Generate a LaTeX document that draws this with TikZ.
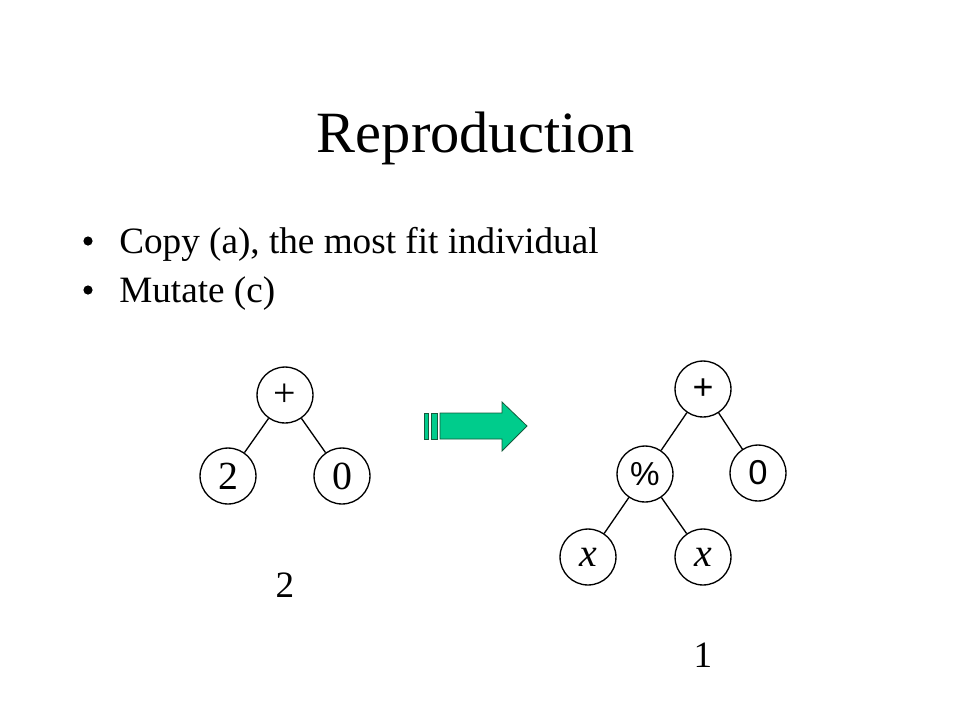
\documentclass[tikz,border=0pt]{standalone}
\usepackage{fontspec}
\setmainfont{Liberation Serif}
\newfontfamily\arialfont{Liberation Sans}
\usepackage{tikz}
\usetikzlibrary{calc}

\definecolor{arrowgreen}{RGB}{0,204,140}
\definecolor{arrowedge}{RGB}{20,90,60}

\tikzset{
    treenode/.style={circle, draw, line width=1pt, minimum size=1.48cm, inner sep=0pt},
    treeedge/.style={line width=1pt},
    bullettext/.style={anchor=base west, inner sep=0pt, font=\fontsize{28}{34}\selectfont},
}

\begin{document}
\begin{tikzpicture}[x=0.026458cm, y=-0.026458cm]
        \useasboundingbox (0,0) rectangle (960,720);

        % Title
        \node[anchor=base, inner sep=0pt, font=\fontsize{44}{50}\selectfont] (title) at (476,152) {Reproduction};

        % Bullets
        \node[bullettext] (copy) at (119,253) {Copy (a), the most fit individual};
        \node[bullettext] (mutate) at (119,302) {Mutate (c)};
        \fill (88,241) circle (4.6);
        \fill (88,290) circle (4.6);

        % Left tree
        \node[treenode, font=\fontsize{30}{34}\selectfont] (lplus) at (285,395) {+};
        \node[treenode, font=\fontsize{30}{34}\selectfont] (ltwo) at (228,476) {2};
        \node[treenode, font=\fontsize{30}{34}\selectfont] (lzero) at (342,476) {0};
        \draw[treeedge] (lplus) -- (ltwo);
        \draw[treeedge] (lplus) -- (lzero);
        \node[font=\fontsize{28}{34}\selectfont] (lfit) at (285,585) {2};

        % Arrow
        \draw[fill=arrowgreen, draw=arrowedge, line width=0.6pt] (424,413) rectangle (428,439);
        \draw[fill=arrowgreen, draw=arrowedge, line width=0.6pt] (431,413) rectangle (437,439);
        \draw[fill=arrowgreen, draw=arrowedge, line width=0.6pt]
            (440,413) -- (502,413) -- (502,402) -- (527,426) -- (502,451) -- (502,439) -- (440,439) -- cycle;

        % Right tree
        \node[treenode, font=\arialfont\fontsize{27}{30}\selectfont] (rplus) at (703,389) {+};
        \node[treenode, font=\arialfont\fontsize{25}{30}\selectfont] (rdiv) at (645,474) {\%};
        \node[treenode, font=\arialfont\fontsize{26}{30}\selectfont] (rzero) at (758,473) {0};
        \node[treenode, font=\itshape\fontsize{30}{34}\selectfont] (rxa) at (588,557) {x};
        \node[treenode, font=\itshape\fontsize{30}{34}\selectfont] (rxb) at (703,557) {x};
        \draw[treeedge] (rplus) -- (rdiv);
        \draw[treeedge] (rplus) -- (rzero);
        \draw[treeedge] (rdiv) -- (rxa);
        \draw[treeedge] (rdiv) -- (rxb);
        \node[font=\fontsize{28}{34}\selectfont] (rfit) at (703,655) {1};

\end{tikzpicture}
\end{document}
